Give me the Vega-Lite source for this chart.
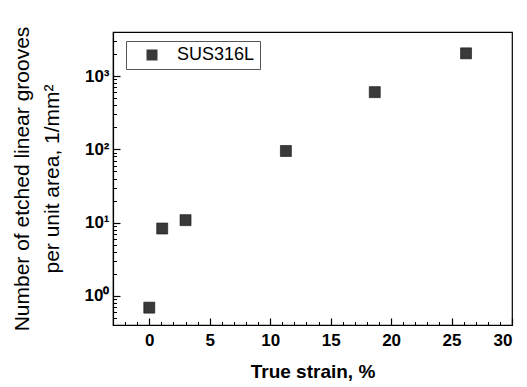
{
  "$schema": "https://vega.github.io/schema/vega-lite/v6.json",
  "width": 399,
  "height": 293,
  "autosize": {"type": "none"},
  "padding": {"left": 113, "top": 32, "right": 15, "bottom": 62},
  "background": "white",
  "config": {"view": {"stroke": "#000", "strokeWidth": 1.2}, "font": "Liberation Sans"},
  "data": {"values": [
    {"strain": 0, "count": 0.69, "series": "SUS316L"},
    {"strain": 1.07, "count": 8.3, "series": "SUS316L"},
    {"strain": 3.0, "count": 10.8, "series": "SUS316L"},
    {"strain": 11.3, "count": 95, "series": "SUS316L"},
    {"strain": 18.65, "count": 604, "series": "SUS316L"},
    {"strain": 26.2, "count": 2045, "series": "SUS316L"}
  ]},
  "resolve": {"axis": {"x": "independent", "y": "independent"}},
  "layer": [
    {
      "mark": {"type": "square", "size": 121, "filled": true, "opacity": 1, "stroke": "#111", "strokeWidth": 0.6},
      "encoding": {
        "x": {"field": "strain", "type": "quantitative",
          "scale": {"domain": [-3, 30], "nice": false, "zero": false},
          "axis": {"orient": "bottom", "values": [0, 5, 10, 15, 20, 25, 30], "tickSize": -7, "tickColor": "#000", "tickWidth": 1.2,
            "domainColor": "#000", "domainWidth": 1.2, "grid": false,
            "labelFont": "Liberation Sans", "labelFontWeight": "bold", "labelFontSize": 17, "labelColor": "#000", "labelPadding": 14, "labelOverlap": false,
            "title": "True strain, %", "titleFont": "Liberation Sans", "titleFontSize": 19, "titleFontWeight": "bold", "titleColor": "#000", "titlePadding": 14}
        },
        "y": {"field": "count", "type": "quantitative",
          "scale": {"type": "log", "domain": [0.4, 4000], "nice": false, "zero": false},
          "axis": {"orient": "left", "values": [1, 10, 100, 1000], "tickSize": -7, "tickColor": "#000", "tickWidth": 1.2,
            "domainColor": "#000", "domainWidth": 1.2, "grid": false,
            "labelExpr": "datum.value == 1 ? '10⁰' : datum.value == 10 ? '10¹' : datum.value == 100 ? '10²' : '10³'",
            "labelFont": "Liberation Sans", "labelFontWeight": "bold", "labelFontSize": 17, "labelColor": "#000", "labelPadding": 11, "labelOverlap": false,
            "title": ["Number of etched linear grooves", "per unit area, 1/mm²"], "titleFont": "Liberation Sans", "titleFontSize": 21, "titleFontWeight": "normal", "titleColor": "#000", "titleLineHeight": 30, "titlePadding": 22}
        },
        "color": {"field": "series", "type": "nominal", "scale": {"range": ["#3a3a3a"]},
          "legend": {"orient": "none", "legendX": 13, "legendY": 9, "title": null, "strokeColor": "#555", "padding": 5,
            "symbolType": "square", "symbolSize": 121, "symbolStrokeWidth": 0, "symbolOffset": 12, "labelOffset": 16,
            "labelFont": "Liberation Sans", "labelFontSize": 18, "labelColor": "#000"}
        }
      }
    },
    {
      "mark": {"type": "point", "opacity": 0},
      "encoding": {
        "x": {"field": "strain", "type": "quantitative",
          "scale": {"domain": [-3, 30], "nice": false, "zero": false},
          "axis": {"orient": "bottom", "values": [-2, -1, 1, 2, 3, 4, 6, 7, 8, 9, 11, 12, 13, 14, 16, 17, 18, 19, 21, 22, 23, 24, 26, 27, 28, 29],
            "tickSize": -3.5, "tickColor": "#000", "tickWidth": 1, "labels": false, "domain": false, "grid": false, "title": null}
        },
        "y": {"field": "count", "type": "quantitative",
          "scale": {"type": "log", "domain": [0.4, 4000], "nice": false, "zero": false},
          "axis": {"orient": "left", "values": [0.4, 0.5, 0.6, 0.7, 0.8, 0.9, 2, 3, 4, 5, 6, 7, 8, 9, 20, 30, 40, 50, 60, 70, 80, 90, 200, 300, 400, 500, 600, 700, 800, 900, 2000, 3000, 4000],
            "tickSize": -3.5, "tickColor": "#000", "tickWidth": 1, "labels": false, "domain": false, "grid": false, "title": null}
        }
      }
    }
  ]
}
